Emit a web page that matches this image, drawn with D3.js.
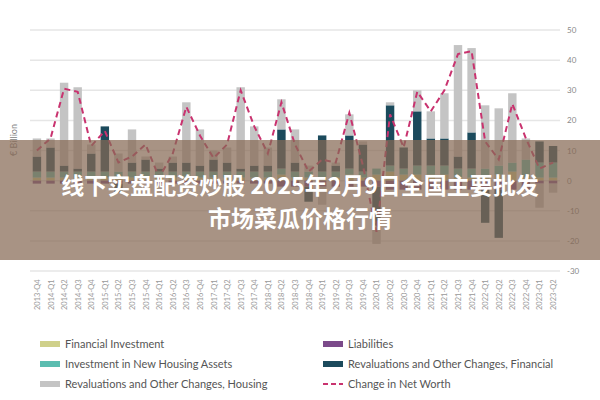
<!DOCTYPE html>
<html><head><meta charset="utf-8">
<script src="https://cdn.jsdelivr.net/npm/d3@7"></script>
<style>body{margin:0;background:#fff;font-family:Lato,"Noto Sans",sans-serif}</style>
</head><body><svg id="c" width="600" height="400"></svg>
<script>
// quarters
const quarters = ["2013-Q4","2014-Q1","2014-Q2","2014-Q3","2014-Q4","2015-Q1","2015-Q2","2015-Q3","2015-Q4","2016-Q1","2016-Q2","2016-Q3","2016-Q4","2017-Q1","2017-Q2","2017-Q3","2017-Q4","2018-Q1","2018-Q2","2018-Q3","2018-Q4","2019-Q1","2019-Q2","2019-Q3","2019-Q4","2020-Q1","2020-Q2","2020-Q3","2020-Q4","2021-Q1","2021-Q2","2021-Q3","2021-Q4","2022-Q1","2022-Q2","2022-Q3","2022-Q4","2023-Q1","2023-Q2"];
// series, € billion
const finInvest  = [1,1,1,1,1,1,1,1,1,1,1,1,1,1,1,1,1,1,2,1,1,1,1,2,1,2,3,2,2,2,2,1,1,1,2,3,1,1,1];
const housInvest = [2,2,2,2,2,2,2,2,2,2,2,2,2,2,2,2,2,2,2,2,2,2,2,2,2,2,2,2,3,3,3,3,3,3,3,3,6,5,5];
const liabilities= [-1,-1,-1,-1,-1,-1,-1,-1,-1,-1,-1,-1,-1,-1,-1,-1,-1,-1,-2,-2,-2,-2,-2,-2,-2,-2,-3,-3,-3,-3,-3,-3,-3,-3,-3,-3,-3,-1,-1];
const finReval   = [5,8,2,1,6,15,-3,3,4,1,3,3,2,4,3,1,2,2,13,3,-5,12,2,11,9,-13,20,7,18,9,9,4,12,-11,-16,0,0,7,5.5];
const housReval  = [6,3,27.5,27,3,0,6,11,1,2,2,20,12,3,5,27,13,6,10,11,2,-6,1,7,1,-6,1,0,7,9,15,37,28,21,19,23,7,-8,-3];
const netWorth   = [10,14,30.5,29.5,11.5,16.5,6,8,12,1,9,24.5,15,7.5,12,30,18,9,26,12,3,7,6,22.5,5,-17,22,11,29.5,23,30,42,43,13,7,25.5,14,4,6];
const yTicks = [-30,-20,-10,0,10,20,30,40,50];

const series = [
  {key:"fi", name:"Financial Investment", vals:finInvest, color:"#cfd08a"},
  {key:"hi", name:"Investment in New Housing Assets", vals:housInvest, color:"#5bbdb0"},
  {key:"li", name:"Liabilities", vals:liabilities, color:"#7b4a8a"},
  {key:"fr", name:"Revaluations and Other Changes, Financial", vals:finReval, color:"#1b4a5c"},
  {key:"hr", name:"Revaluations and Other Changes, Housing", vals:housReval, color:"#c4c4c4"}
];

const svg = d3.select("#c");
const x = d3.scaleBand().domain(quarters).range([30,560]).paddingInner(0.38).paddingOuter(0.2);
const y = d3.scaleLinear().domain([-30,50]).range([271,30]);

// grid
svg.append("g").selectAll("line").data(yTicks).join("line")
  .attr("x1",30).attr("x2",560).attr("y1",d=>y(d)).attr("y2",d=>y(d))
  .attr("stroke","#e6e6e6").attr("stroke-width",1.5);
svg.append("g").selectAll("text").data(yTicks).join("text")
  .attr("x",567).attr("y",d=>y(d)+3).attr("font-size",8).attr("fill","#888").text(d=>d);

// stacked bars
const table = quarters.map((q,i)=>{const o={q}; series.forEach(s=>o[s.key]=s.vals[i]); return o;});
const stack = d3.stack().keys(series.map(s=>s.key)).offset(d3.stackOffsetDiverging)(table);
stack.forEach((layer,li)=>{
  svg.append("g").attr("fill",series[li].color).selectAll("rect").data(layer).join("rect")
    .attr("x",d=>x(d.data.q)).attr("width",x.bandwidth())
    .attr("y",d=>y(Math.max(d[0],d[1]))).attr("height",d=>Math.abs(y(d[0])-y(d[1])));
});

// net worth line
svg.append("path").datum(netWorth)
  .attr("d",d3.line().x((d,i)=>x(quarters[i])+x.bandwidth()/2).y(d=>y(d)))
  .attr("fill","none").attr("stroke","#c9336f").attr("stroke-width",2).attr("stroke-dasharray","6,4");

// y label
svg.append("text").attr("transform","translate(17,140) rotate(-90)").attr("text-anchor","middle")
  .attr("font-size",9).attr("fill","#888").text("€ Billion");

// x labels
svg.append("g").selectAll("text").data(quarters).join("text")
  .attr("transform",d=>`translate(${x(d)+x.bandwidth()/2+3},310) rotate(-90)`)
  .attr("font-size",7.5).attr("fill","#999").text(d=>d);

// legend
const legendOrder = [series[0],series[2],series[1],series[3],series[4],{name:"Change in Net Worth",line:true}];
legendOrder.forEach((s,i)=>{
  const lx = i%2===0 ? 40 : 323, ly = 344 + Math.floor(i/2)*20;
  if(s.line) svg.append("line").attr("x1",lx).attr("x2",lx+20).attr("y1",ly).attr("y2",ly)
    .attr("stroke","#c9336f").attr("stroke-width",2).attr("stroke-dasharray","5,3");
  else svg.append("rect").attr("x",lx).attr("y",ly-3).attr("width",20).attr("height",6).attr("fill",s.color);
  svg.append("text").attr("x",lx+25).attr("y",ly+4).attr("font-size",11).attr("fill","#555").text(s.name);
});

// overlay banner
svg.append("rect").attr("x",0).attr("y",140).attr("width",600).attr("height",120).attr("fill","rgba(135,105,85,0.72)");
svg.append("text").attr("x",300).attr("y",194).attr("text-anchor","middle").attr("font-size",23).attr("font-weight","bold")
  .attr("fill","#fff").attr("font-family","'Noto Sans CJK SC',sans-serif").text("线下实盘配资炒股 2025年2月9日全国主要批发");
svg.append("text").attr("x",300).attr("y",227).attr("text-anchor","middle").attr("font-size",23).attr("font-weight","bold")
  .attr("fill","#fff").attr("font-family","'Noto Sans CJK SC',sans-serif").text("市场菜瓜价格行情");
</script></body></html>
